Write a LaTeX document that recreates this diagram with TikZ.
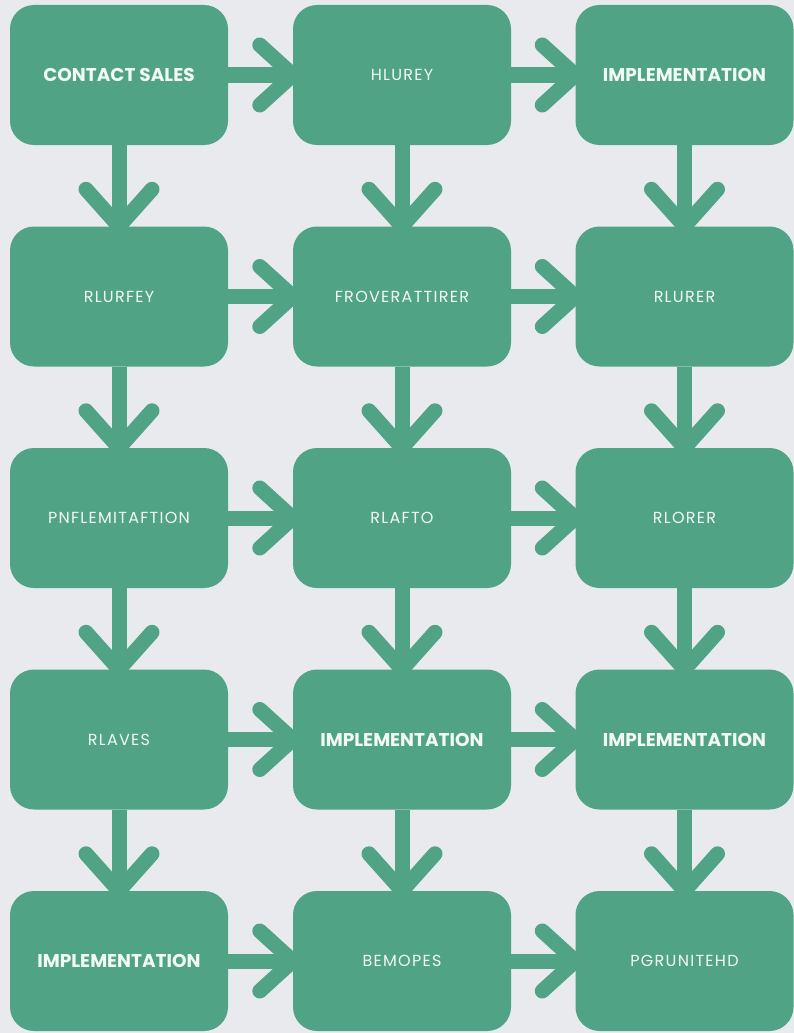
\documentclass[tikz,border=0pt]{standalone}
\usepackage{fontspec}
\setmainfont{Poppins}
\newfontfamily\regf{Poppins}[LetterSpace=8]
\definecolor{bg}{HTML}{E8EAEE}
\definecolor{boxc}{HTML}{50A385}
\definecolor{txt}{HTML}{F2FAF6}
\newcommand{\harr}[2]{%
  \draw[shaft] (#1.east) -- (#2.west);
  \draw[head] ([shift={(-33,-30)}]#2.west) -- (#2.west) -- ([shift={(-33,30)}]#2.west);}
\newcommand{\varr}[2]{%
  \draw[shaft] (#1.south) -- (#2.north);
  \draw[head] ([shift={(-33,-37)}]#2.north) -- (#2.north) -- ([shift={(33,-37)}]#2.north);}
\begin{document}
\begin{tikzpicture}[x=1pt,y=-1pt,
  box/.style={fill=boxc, rounded corners=24pt, minimum width=218pt, minimum height=140pt,
    inner sep=0pt, text=txt, font=\regf\fontsize{16}{19}\selectfont},
  bold/.style={font=\fontsize{18.5}{22}\selectfont\bfseries},
  shaft/.style={draw=boxc, line width=15pt},
  head/.style={draw=boxc, line width=15pt, line cap=round, line join=round}]
\fill[bg] (0,0) rectangle (794,1033);
\useasboundingbox (0,0) rectangle (794,1033);
% row 1
\node[box,bold] (a1) at (119,75) {CONTACT SALES};
\node[box] (a2) at (402,75) {HLUREY};
\node[box,bold] (a3) at (684.5,75) {IMPLEMENTATION};
% row 2
\node[box] (b1) at (119,296.5) {RLURFEY};
\node[box] (b2) at (402,296.5) {FROVERATTIRER};
\node[box] (b3) at (684.5,296.5) {RLURER};
% row 3
\node[box] (c1) at (119,518) {PNFLEMITAFTION};
\node[box] (c2) at (402,518) {RLAFTO};
\node[box] (c3) at (684.5,518) {RLORER};
% row 4
\node[box] (d1) at (119,739.5) {RLAVES};
\node[box,bold] (d2) at (402,739.5) {IMPLEMENTATION};
\node[box,bold] (d3) at (684.5,739.5) {IMPLEMENTATION};
% row 5
\node[box,bold] (e1) at (119,961) {IMPLEMENTATION};
\node[box] (e2) at (402,961) {BEMOPES};
\node[box] (e3) at (684.5,961) {PGRUNITEHD};
% horizontal arrows
\harr{a1}{a2}\harr{a2}{a3}
\harr{b1}{b2}\harr{b2}{b3}
\harr{c1}{c2}\harr{c2}{c3}
\harr{d1}{d2}\harr{d2}{d3}
\harr{e1}{e2}\harr{e2}{e3}
% vertical arrows
\varr{a1}{b1}\varr{a2}{b2}\varr{a3}{b3}
\varr{b1}{c1}\varr{b2}{c2}\varr{b3}{c3}
\varr{c1}{d1}\varr{c2}{d2}\varr{c3}{d3}
\varr{d1}{e1}\varr{d2}{e2}\varr{d3}{e3}
\end{tikzpicture}
\end{document}
